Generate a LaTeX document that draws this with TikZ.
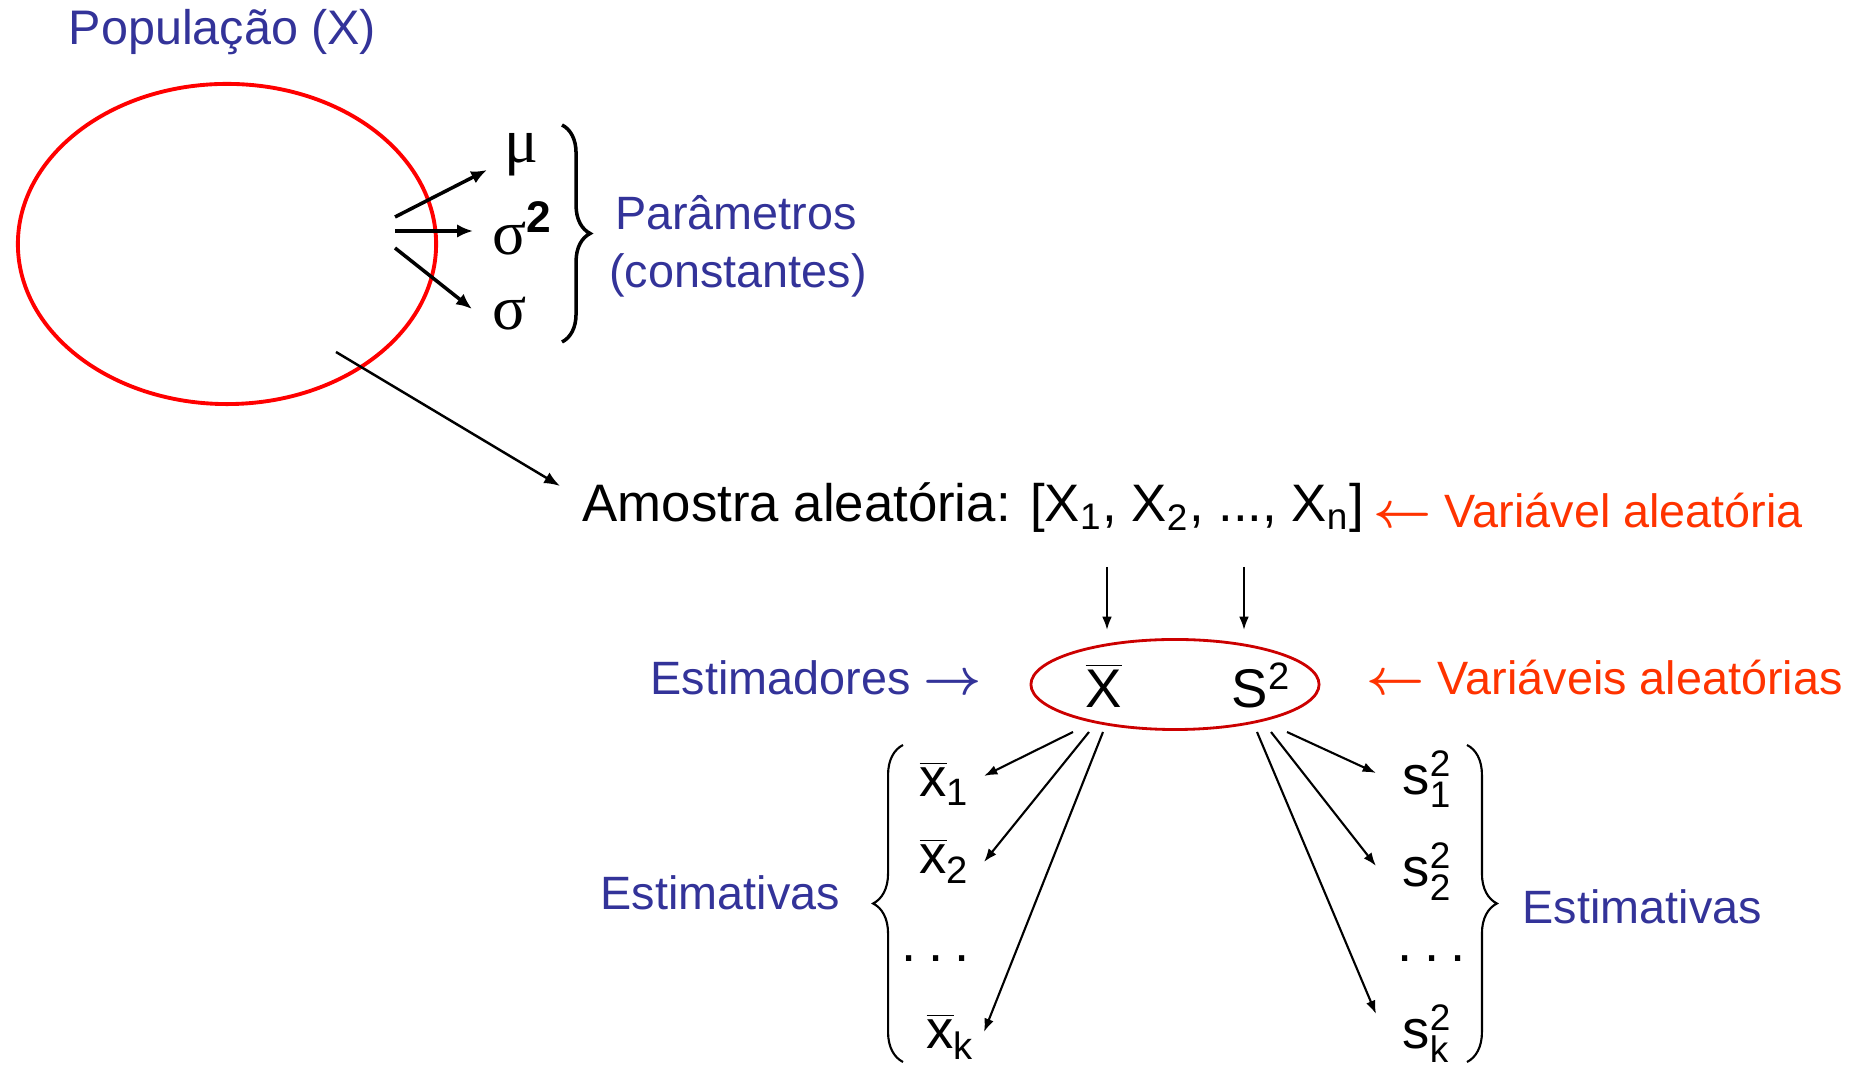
\documentclass[tikz,border=0pt]{standalone}
\usepackage{fontspec}
\setmainfont{Liberation Sans}
\newfontfamily\grk{Liberation Serif}
\usetikzlibrary{arrows.meta,decorations.pathreplacing,shapes.geometric}
\definecolor{navy}{RGB}{51,51,153}
\definecolor{redor}{RGB}{255,51,0}
\definecolor{dred}{RGB}{204,0,0}
\newcommand{\xbr}{\ensuremath{\overline{\hbox{x}}}}
\newcommand{\smf}[1]{{\fontsize{10.5}{12}\selectfont #1}}
\newcommand{\sq}[1]{\ensuremath{\hbox{s}^{\hbox{\smf{2}}}_{\hbox{\smf{#1}}}}}
\newcommand{\tdots}{.\kern3.2pt.\kern3.2pt.}
\newcommand{\lar}{{\boldmath$\leftarrow$}}
\newcommand{\rar}{{\boldmath$\rightarrow$}}
\tikzset{
  lbl/.style={inner sep=0, anchor=base west},
  blk/.style={lbl, font=\fontsize{15.5}{18}\selectfont},
  blu/.style={lbl, text=navy, font=\fontsize{13.3}{16}\selectfont},
  rdl/.style={lbl, text=redor, font=\fontsize{13.3}{16}\selectfont},
  grl/.style={lbl, font=\fontsize{18}{20}\grk},
  arA/.style={line width=1pt, -{Latex[length=4.5pt,width=3.8pt]}},
  arB/.style={line width=0.6pt, -{Latex[length=3.8pt,width=2.8pt]}},
  brc/.style={decorate, decoration={brace, amplitude=#1}},
}
\begin{document}
\begin{tikzpicture}[x=0.01cm,y=-0.01cm]
\useasboundingbox (0,0) rectangle (1860,1068);
% population
\node[blu, font=\fontsize{13.8}{16}\selectfont] (pop) at (68,45) {População (X)};
\node[ellipse, draw=red, line width=1.1pt, minimum width=4.18cm, minimum height=3.2cm, inner sep=0] (popc) at (227,244) {};
% parameters
\node[grl] (mu) at (504,163) {μ};
\node[grl] (sig2) at (492,255) {σ\textsuperscript{\normalfont\bfseries 2}};
\node[grl] (sig) at (492,330) {σ};
\coordinate (a1s) at (395,217); \coordinate (a1e) at (487,170);
\coordinate (a2s) at (395,231); \coordinate (a2e) at (473,231);
\coordinate (a3s) at (395,248); \coordinate (a3e) at (472,309);
\draw[arA] (a1s) -- (a1e);
\draw[arA] (a2s) -- (a2e);
\draw[arA] (a3s) -- (a3e);
\coordinate (b1t) at (562,125); \coordinate (b1b) at (562,342);
\draw[line width=1pt, brc=8pt] (b1t) -- (b1b);
\node[blu, anchor=base] (par1) at (736,230) {Parâmetros};
\node[blu, anchor=base] (par2) at (738,288) {(constantes)};
% sample
\coordinate (ls) at (336,352); \coordinate (le) at (560,486);
\draw[line width=0.7pt, -{Latex[length=4.5pt,width=3.5pt]}] (ls) -- (le);
\node[blk, font=\fontsize{15}{18}\selectfont] (amo) at (582,522) {Amostra aleatória: [X\textsubscript{1}, X\textsubscript{2}, ..., X\textsubscript{n}]};
\node[rdl] (va) at (1373,528) {\lar{} Variável aleatória};
\coordinate (d1s) at (1107,567); \coordinate (d1e) at (1107,630);
\coordinate (d2s) at (1244,567); \coordinate (d2e) at (1244,630);
\draw[arB] (d1s) -- (d1e);
\draw[arB] (d2s) -- (d2e);
% estimators
\node[ellipse, draw=dred, line width=0.8pt, minimum width=2.88cm, minimum height=0.9cm, inner sep=0] (estc) at (1175,684.5) {};
\node[blk] (xb) at (1085,708) {$\overline{\hbox{X}}$};
\node[blk] (s2) at (1231,708) {S\textsuperscript{2}};
\node[blu] (estim) at (650,695) {Estimadores \rar};
\node[rdl] (vas) at (1366,695) {\lar{} Variáveis aleatórias};
% estimates
\node[blk] (x1) at (919,797) {\xbr\textsubscript{1}};
\node[blk] (x2) at (919,874) {\xbr\textsubscript{2}};
\node[blk] (xd) at (901,962) {\tdots};
\node[blk] (xk) at (926,1049) {\xbr\textsubscript{k}};
\node[blk] (s1) at (1402,795) {\sq{1}};
\node[blk] (s2b) at (1402,887) {\sq{2}};
\node[blk] (sd) at (1397,962) {\tdots};
\node[blk] (sk) at (1402,1049) {\sq{k}};
\coordinate (l1s) at (1073,732); \coordinate (l1e) at (984,776);
\coordinate (l2s) at (1089,732); \coordinate (l2e) at (984,862);
\coordinate (l3s) at (1103,732); \coordinate (l3e) at (984,1032);
\coordinate (r1s) at (1287,732); \coordinate (r1e) at (1376,773);
\coordinate (r2s) at (1271,732); \coordinate (r2e) at (1376,866);
\coordinate (r3s) at (1257,732); \coordinate (r3e) at (1376,1014);
\draw[arB] (l1s) -- (l1e);
\draw[arB] (l2s) -- (l2e);
\draw[arB] (l3s) -- (l3e);
\draw[arB] (r1s) -- (r1e);
\draw[arB] (r2s) -- (r2e);
\draw[arB] (r3s) -- (r3e);
\coordinate (b2b) at (903,1062); \coordinate (b2t) at (903,745);
\draw[line width=0.6pt, brc=8.5pt] (b2b) -- (b2t);
\coordinate (b3t) at (1467,745); \coordinate (b3b) at (1467,1062);
\draw[line width=0.6pt, brc=8.5pt] (b3t) -- (b3b);
\node[blu] (e1) at (600,910) {Estimativas};
\node[blu] (e2) at (1522,924) {Estimativas};
\end{tikzpicture}
\end{document}
